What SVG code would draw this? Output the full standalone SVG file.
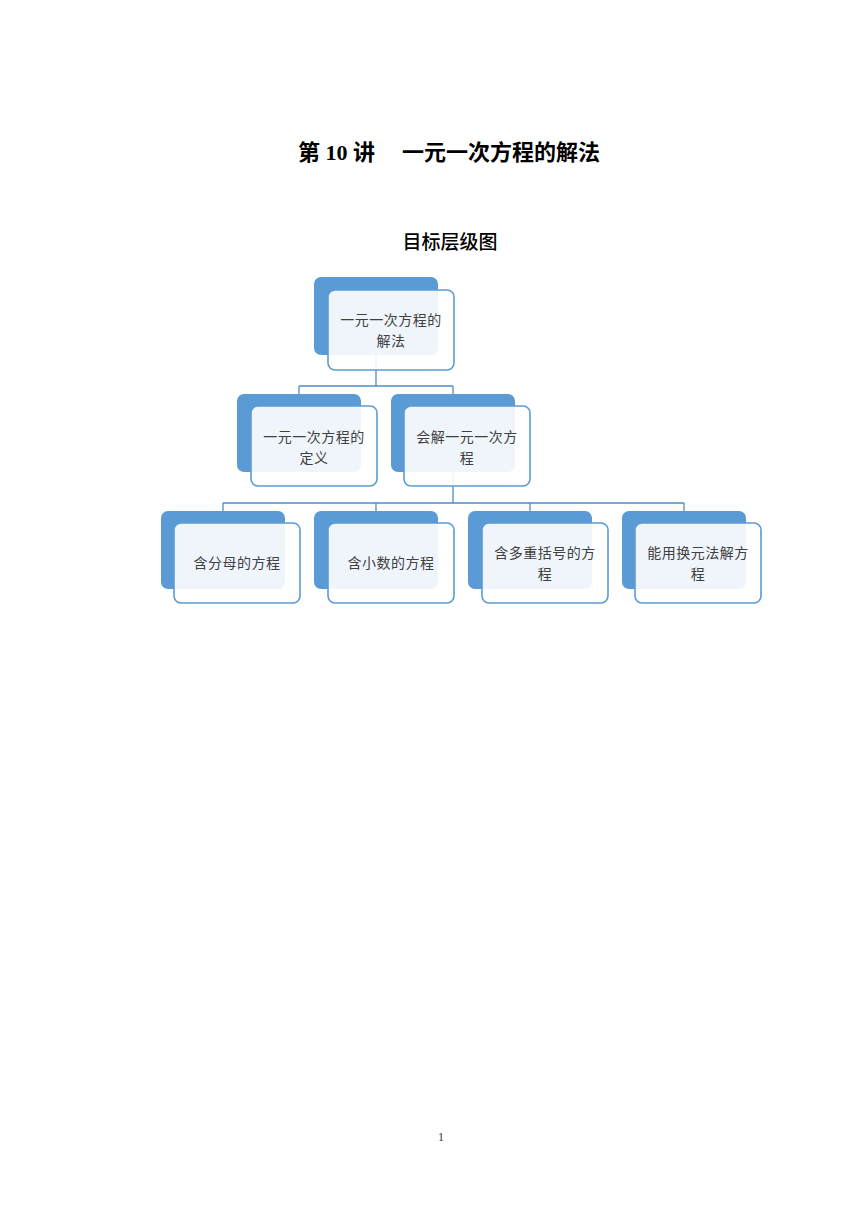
<svg xmlns="http://www.w3.org/2000/svg" width="860" height="1216" viewBox="0 0 860 1216">
<style>
.bg{fill:#ffffff}
.back{fill:#5b9bd5}
.front{fill:#ffffff;fill-opacity:0.9;stroke:#5b9bd5;stroke-width:1.6}
.conn{fill:none;stroke:#4f8cc9;stroke-width:1.3}
.lbl{font-family:"Noto Sans CJK SC","Liberation Sans",sans-serif;font-size:14px;letter-spacing:0.5px;fill:#404040;text-anchor:middle}
.title{font-family:"Liberation Serif","Noto Sans CJK SC",serif;font-weight:bold;font-size:22px;fill:#000}
.sub{font-family:"Noto Sans CJK SC",sans-serif;font-weight:500;font-size:19px;fill:#000;text-anchor:middle}
.pg{font-family:"Liberation Serif",serif;font-size:12px;fill:#333;text-anchor:middle}
</style>
<rect class="bg" x="0" y="0" width="860" height="1216"/>
<text class="title" x="298" y="160">第 10 讲<tspan x="402">一元一次方程的解法</tspan></text>
<text class="sub" x="450" y="249">目标层级图</text>
<g id="connectors">
<path class="conn" d="M376 355 V386 M299 386 H453 M299 386 V394 M453 386 V394"/>
<path class="conn" d="M453 472 V503 M223 503 H684 M223 503 V511 M376 503 V511 M530 503 V511 M684 503 V511"/>
</g>
<g id="n-root">
<rect class="back" x="314" y="277" width="124" height="78" rx="7"/>
<rect class="front" x="328" y="290" width="126" height="80" rx="7"/>
<text class="lbl" x="391" y="325">一元一次方程的<tspan x="391" dy="20.5">解法</tspan></text>
</g>
<g id="n-def">
<rect class="back" x="237" y="394" width="124" height="78" rx="7"/>
<rect class="front" x="251" y="406" width="126" height="80" rx="7"/>
<text class="lbl" x="314" y="442">一元一次方程的<tspan x="314" dy="20.5">定义</tspan></text>
</g>
<g id="n-solve">
<rect class="back" x="391" y="394" width="124" height="78" rx="7"/>
<rect class="front" x="404" y="406" width="126" height="80" rx="7"/>
<text class="lbl" x="467" y="442">会解一元一次方<tspan x="467" dy="20.5">程</tspan></text>
</g>
<g id="n-frac">
<rect class="back" x="161" y="511" width="124" height="78" rx="7"/>
<rect class="front" x="174" y="523" width="126" height="80" rx="7"/>
<text class="lbl" x="237" y="568">含分母的方程</text>
</g>
<g id="n-dec">
<rect class="back" x="314" y="511" width="124" height="78" rx="7"/>
<rect class="front" x="328" y="523" width="126" height="80" rx="7"/>
<text class="lbl" x="391" y="568">含小数的方程</text>
</g>
<g id="n-brk">
<rect class="back" x="468" y="511" width="124" height="78" rx="7"/>
<rect class="front" x="482" y="523" width="126" height="80" rx="7"/>
<text class="lbl" x="545" y="558">含多重括号的方<tspan x="545" dy="20.5">程</tspan></text>
</g>
<g id="n-sub">
<rect class="back" x="622" y="511" width="124" height="78" rx="7"/>
<rect class="front" x="635" y="523" width="126" height="80" rx="7"/>
<text class="lbl" x="698" y="558">能用换元法解方<tspan x="698" dy="20.5">程</tspan></text>
</g>
<text class="pg" x="441" y="1141">1</text>
</svg>
